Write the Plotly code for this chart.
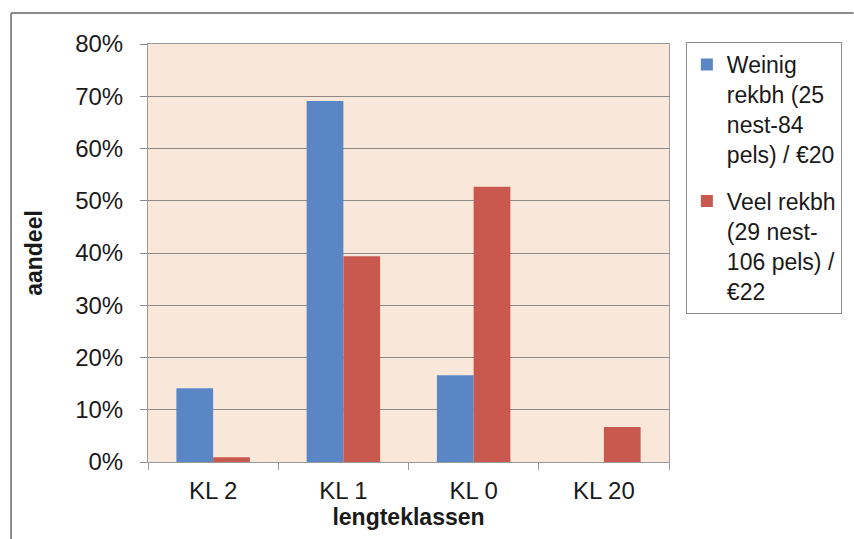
import plotly.graph_objects as go

# Length classes and share per group (percent)
categories = ["KL 2", "KL 1", "KL 0", "KL 20"]
weinig = [14.1, 69.1, 16.6, 0.0]
veel = [0.9, 39.4, 52.7, 6.7]
names = [
    "Weinig<br>rekbh (25<br>nest-84<br>pels) / €20",
    "Veel rekbh<br>(29 nest-<br>106 pels) /<br>€22",
]
y_ticks = [0, 10, 20, 30, 40, 50, 60, 70, 80]

W, H = 854, 539
L, R, T, B = 148, 673, 44, 462


def px(x):
    return (x - L) / (R - L)


def py(y):
    return (B - y) / (B - T)


fig = go.Figure()
fig.add_trace(go.Bar(x=categories, y=weinig, name=names[0], legendgroup="weinig",
                     marker=dict(color="#5B86C6", line=dict(width=0))))
fig.add_trace(go.Bar(x=categories, y=veel, name=names[1], legendgroup="veel",
                     marker=dict(color="#C9584F", line=dict(width=0))))

font = "Liberation Sans, Arial, sans-serif"
txt = "#1a1a1a"

fig.update_layout(
    width=W, height=H,
    margin=dict(l=L, r=W - R, t=T, b=H - B),
    paper_bgcolor="white",
    plot_bgcolor="#F9E7D9",
    barmode="group",
    bargap=0.436,
    bargroupgap=0,
    font=dict(family=font, size=24, color=txt),
    showlegend=True,
    legend=dict(
        x=px(690), y=py(42), xanchor="left", yanchor="top",
        bordercolor="#8c8c8c", borderwidth=1,
        bgcolor="white",
        font=dict(family=font, size=23, color=txt),
        valign="top",
        itemwidth=30,
        tracegroupgap=14,
        maxheight=1.0,
    ),
    xaxis=dict(
        type="category",
        showline=True, linecolor="#9a9a9a", linewidth=1, mirror=True,
        ticks="outside", tickson="boundaries", ticklen=7, tickcolor="#9a9a9a",
        ticklabelstandoff=7,
        tickfont=dict(family=font, size=24, color=txt),
        title=dict(text="<b>lengteklassen</b>",
                   font=dict(family=font, size=23, color=txt), standoff=6),
        showgrid=False,
    ),
    yaxis=dict(
        range=[0, 80],
        tickvals=y_ticks,
        ticktext=[f"{v}%" for v in y_ticks],
        showline=True, linecolor="#9a9a9a", linewidth=1, mirror=True,
        ticks="outside", ticklen=7, tickcolor="#8c8c8c",
        ticklabelstandoff=12,
        showgrid=True, gridcolor="#8f8a85", gridwidth=1,
        tickfont=dict(family=font, size=24, color=txt),
        title=dict(text="<b>aandeel</b>",
                   font=dict(family=font, size=23, color=txt), standoff=26),
        zeroline=False,
    ),
)

# Outer chart frame (top and left edges)
fig.add_shape(type="line", xref="paper", yref="paper",
              x0=px(10), y0=py(13), x1=px(W + 5), y1=py(13),
              line=dict(color="#8a8a8a", width=2))
fig.add_shape(type="line", xref="paper", yref="paper",
              x0=px(10), y0=py(13), x1=px(10), y1=py(H + 5),
              line=dict(color="#8a8a8a", width=2))

fig.write_html("out.html")
